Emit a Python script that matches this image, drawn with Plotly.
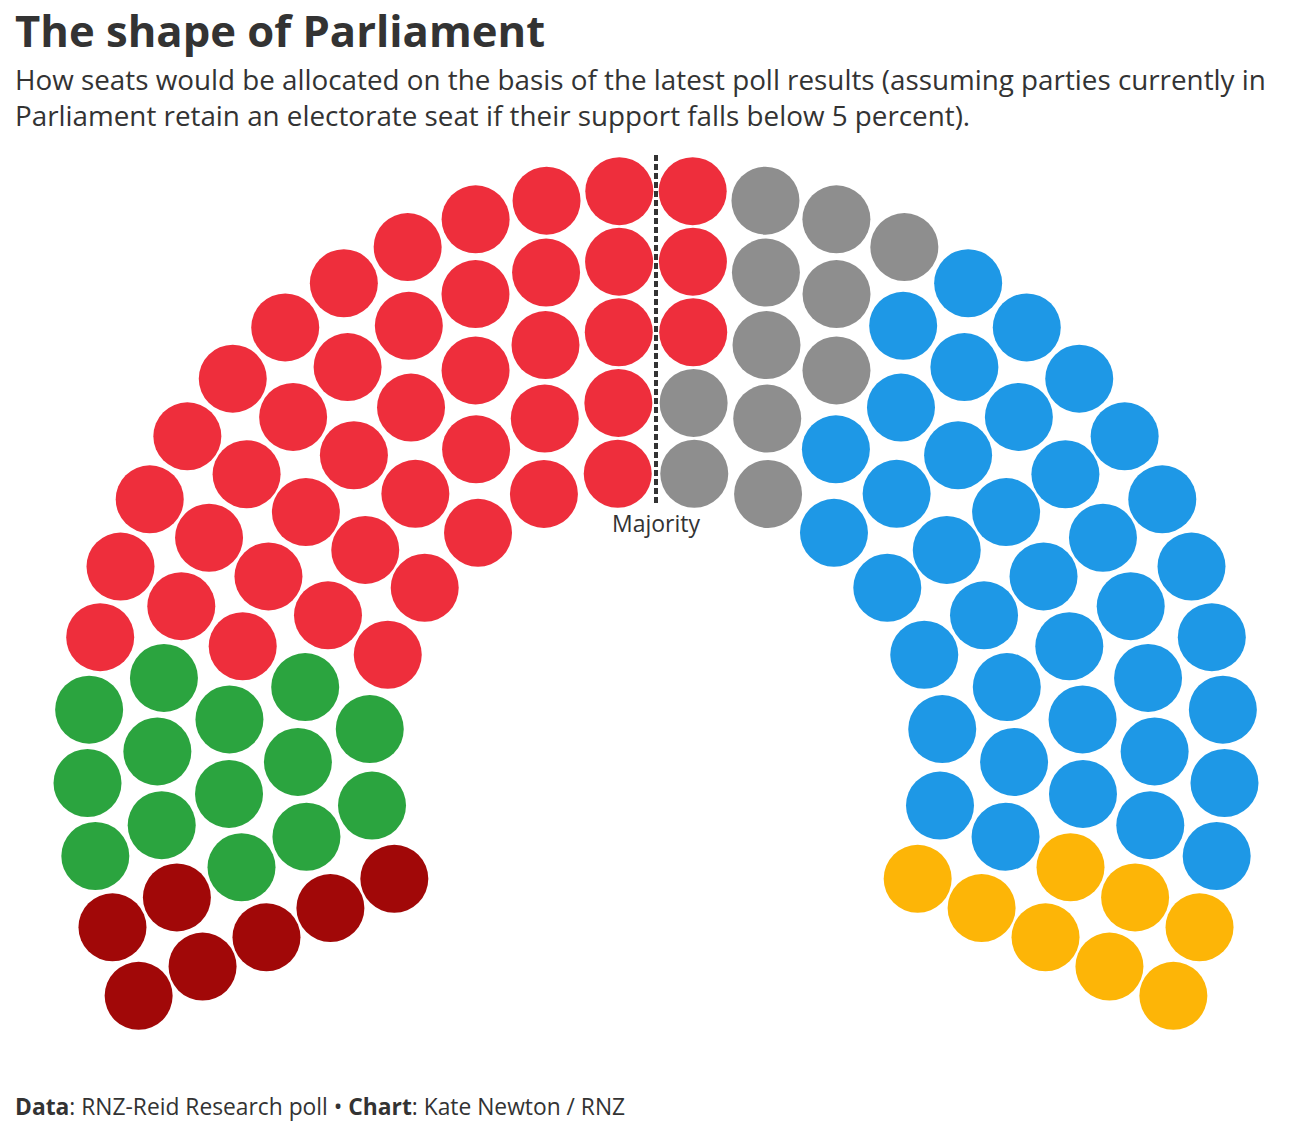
import numpy as np
import plotly.graph_objects as go

# seats per party, left to right around the chamber
parties = ["Te Pāti Māori", "Green", "Labour", "NZ First", "National", "ACT"]
seats = [7, 14, 42, 11, 38, 8]
colours = ["#A10808", "#2BA43F", "#EE2E3C", "#8E8E8E", "#1E98E6", "#FDB507"]

# seats in each ring, inner to outer
row_seats = [16, 20, 24, 28, 32]

title = "The shape of Parliament"
subtitle = ("How seats would be allocated on the basis of the latest poll results (assuming parties currently in<br>"
            "Parliament retain an electorate seat if their support falls below 5 percent).")
footer = "<b>Data</b>: RNZ-Reid Research poll • <b>Chart</b>: Kate Newton / RNZ"

FONT = "Open Sans"
W, H = 1292, 1124

# hemicycle geometry (axis units are screen pixels, centre of the chamber at 0,0)
cx, cy = 656, 759
inner_r = 287.8
row_gap = 70.3
overhang = 24.6  # degrees the arc dips below horizontal at each end

xs, ys, angs = [], [], []
for i, n in enumerate(row_seats):
    r = inner_r + i * row_gap
    a = np.linspace(180 + overhang, -overhang, n)
    xs += list(r * np.cos(np.radians(a)))
    ys += list(r * np.sin(np.radians(a)))
    angs += list(a)

# fill seats by angle, sweeping from the left end over the top
order = np.argsort(-np.round(np.array(angs), 6), kind="stable")
xs = np.array(xs)[order]
ys = np.array(ys)[order]
seat_party = np.repeat(parties, seats)
seat_colour = np.repeat(colours, seats)

fig = go.Figure()
fig.add_trace(go.Scatter(
    x=xs, y=ys, mode="markers",
    marker=dict(size=68, color=seat_colour, line=dict(width=0)),
    hovertext=seat_party, hoverinfo="text",
    showlegend=False,
))

# majority line
fig.add_shape(type="line", x0=0, x1=0, y0=604, y1=254,
              line=dict(color="#333333", width=4, dash="6px,3px"))
fig.add_annotation(x=0, y=236, text="Majority", showarrow=False,
                   font=dict(size=23, color="#333333", family=FONT),
                   xanchor="center", yanchor="middle")

top, bottom = 140, 60
plot_h = H - top - bottom


def py(px):
    return (H - bottom - px) / plot_h


left = 13 / W
fig.add_annotation(x=left, y=py(30), xref="paper", yref="paper", text=f"<b>{title}</b>",
                   showarrow=False, xanchor="left", yanchor="middle", align="left",
                   font=dict(size=43.6, color="#333333", family=FONT))
fig.add_annotation(x=left, y=py(97.5), xref="paper", yref="paper", text=subtitle,
                   showarrow=False, xanchor="left", yanchor="middle", align="left",
                   font=dict(size=27.8, color="#333333", family=FONT))
fig.add_annotation(x=left, y=py(1106), xref="paper", yref="paper", text=footer,
                   showarrow=False, xanchor="left", yanchor="middle", align="left",
                   font=dict(size=22.8, color="#333333", family=FONT))

fig.update_layout(
    width=W, height=H,
    margin=dict(l=0, r=0, t=top, b=bottom),
    paper_bgcolor="white", plot_bgcolor="white",
    xaxis=dict(range=[-cx, W - cx], visible=False, fixedrange=True),
    yaxis=dict(range=[cy - (H - bottom), cy - top], visible=False, fixedrange=True),
    font=dict(family=FONT),
)

# drop the page's default body margin so the figure fills the window exactly
fig.write_html("out.html", config={"displayModeBar": False},
               post_script="document.body.style.margin = '0';")
